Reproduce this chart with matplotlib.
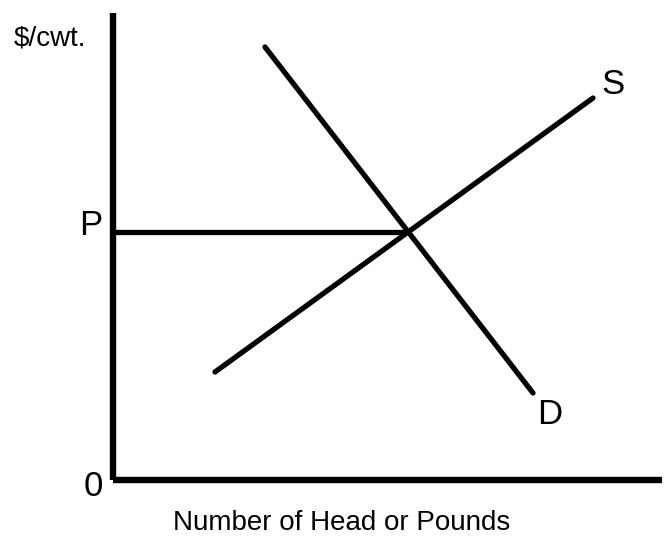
import numpy as np
import matplotlib.pyplot as plt

# supply / demand diagram, coordinates in plot units (origin at axis corner)
supply_q = [102, 480]
supply_p = [108, 382]
demand_q = [152, 420]
demand_p = [433, 87]

axis_q_max = 549
axis_p_max = 467

labels = {"price": "P", "supply": "S", "demand": "D", "origin": "0"}
y_label = "$/cwt."
x_label = "Number of Head or Pounds"


def intersection(q1, p1, q2, p2):
    s1 = (p1[1] - p1[0]) / (q1[1] - q1[0])
    s2 = (p2[1] - p2[0]) / (q2[1] - q2[0])
    q = (p2[0] - p1[0] + s1 * q1[0] - s2 * q2[0]) / (s1 - s2)
    return q, p1[0] + s1 * (q - q1[0])


eq_q, eq_p = intersection(supply_q, supply_p, demand_q, demand_p)

plt.rcParams["font.family"] = ["Liberation Sans", "DejaVu Sans"]

fig = plt.figure(figsize=(6.7, 5.36), dpi=100)
ax = fig.add_axes([0, 0, 1, 1])
ax.set_xlim(-113, 670 - 113)
ax.set_ylim(480 - 536, 480)
ax.axis("off")

# axes
ax.plot([0, 0], [0, axis_p_max], color="black", lw=4.6, solid_capstyle="butt")
ax.plot([0, axis_q_max], [0, 0], color="black", lw=4.6, solid_capstyle="butt")

# curves
ax.plot(supply_q, supply_p, color="black", lw=3.8, solid_capstyle="round")
ax.plot(demand_q, demand_p, color="black", lw=3.8, solid_capstyle="round")
ax.plot([0, eq_q], [eq_p, eq_p], color="black", lw=3.8, solid_capstyle="butt")

ax.text(-99, 442, y_label, fontsize=20, ha="left", va="center")
ax.text(-22, eq_p + 6, labels["price"], fontsize=25, ha="center", va="center")
ax.text(500, 395, labels["supply"], fontsize=25, ha="center", va="center")
ax.text(437, 66, labels["demand"], fontsize=25, ha="center", va="center")
ax.text(-20, -6, labels["origin"], fontsize=25, ha="center", va="center")
ax.text(229, -43, x_label, fontsize=20, ha="center", va="center")

fig.savefig("out.png", dpi=100)
